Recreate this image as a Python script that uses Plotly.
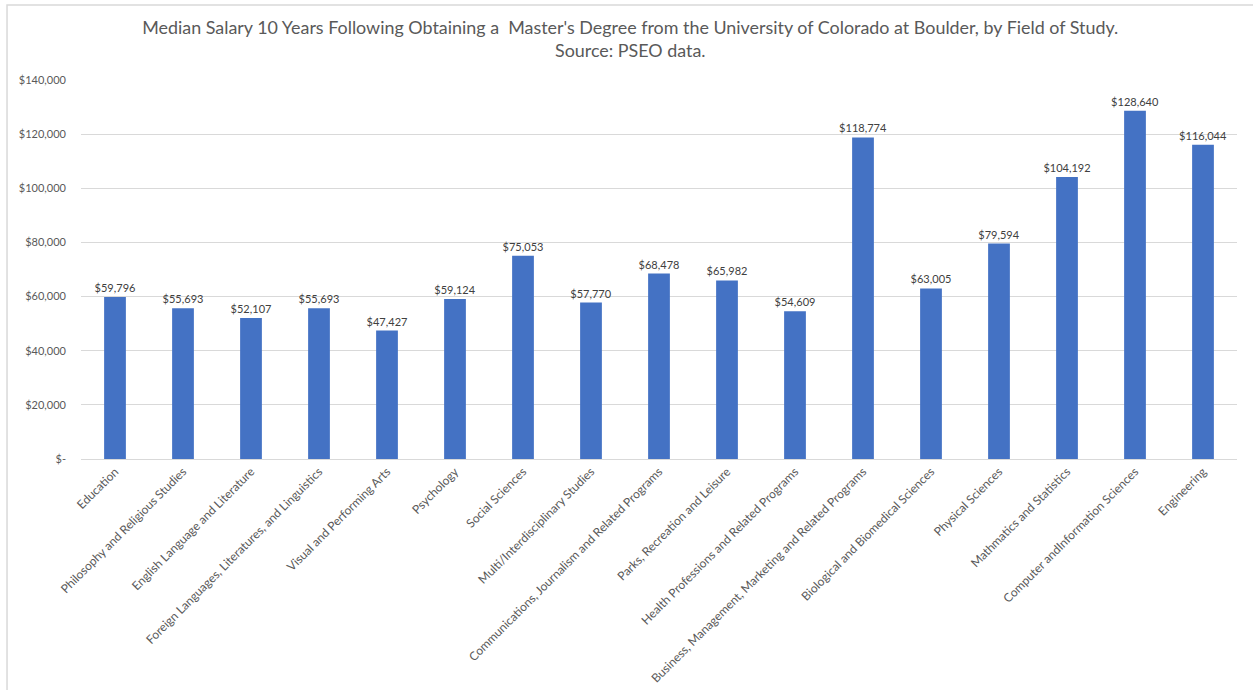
import plotly.graph_objects as go

categories = [
    "Education",
    "Philosophy and Religious Studies",
    "English Language and Literature",
    "Foreign Languages, Literatures, and Linguistics",
    "Visual and Performing Arts",
    "Psychology",
    "Social Sciences",
    "Multi/Interdisciplinary Studies",
    "Communications, Journalism and Related Programs",
    "Parks, Recreation and Leisure",
    "Health Professions and Related Programs",
    "Business, Management, Marketing and Related Programs",
    "Biological and Biomedical Sciences",
    "Physical Sciences",
    "Mathmatics and Statistics",
    "Computer andInformation Sciences",
    "Engineering",
]
salaries = [59796, 55693, 52107, 55693, 47427, 59124, 75053, 57770, 68478,
            65982, 54609, 118774, 63005, 79594, 104192, 128640, 116044]
ytick_vals = [0, 20000, 40000, 60000, 80000, 100000, 120000, 140000]
ytick_text = ["$-", "$20,000", "$40,000", "$60,000", "$80,000", "$100,000", "$120,000", "$140,000"]

labels = ["${:,}".format(v) for v in salaries]

fig = go.Figure(go.Bar(
    x=categories, y=salaries,
    marker=dict(color="#4472C4", line=dict(width=0)),
    width=0.32,
    text=labels, textposition="outside", cliponaxis=False, constraintext="none",
    textfont=dict(family="Lato, Open Sans, sans-serif", size=11, color="#404040"),
))

fig.update_layout(
    width=1253, height=690,
    margin=dict(l=81, r=16, t=80, b=231),
    paper_bgcolor="white", plot_bgcolor="white",
    showlegend=False,
    title=dict(
        text="Median Salary 10 Years Following Obtaining a  Master's Degree from the University of Colorado at Boulder, by Field of Study.<br>Source: PSEO data.",
        x=0.503, xanchor="center", y=0.951, yanchor="top",
        font=dict(family="Lato, Open Sans, sans-serif", size=17.9, color="#595959"),
    ),
    font=dict(family="Lato, Open Sans, sans-serif", color="#595959"),
)
fig.update_xaxes(
    tickangle=-45, tickfont=dict(size=12, color="#595959"),
    showgrid=False, showline=True, linecolor="#d9d9d9", linewidth=1,
    ticks="", automargin=False,
)
fig.update_yaxes(
    range=[0, 140000], tickvals=ytick_vals, ticktext=ytick_text,
    tickfont=dict(size=11, color="#595959"),
    showgrid=True, gridcolor="#d9d9d9", gridwidth=1,
    zeroline=False, showline=False, ticks="", ticklabelstandoff=14,
    automargin=False,
)
fig.add_shape(type="rect", xref="paper", yref="paper",
              x0=-0.064, x1=1.1, y0=-0.8, y1=1.198,
              line=dict(color="#d9d9d9", width=1.5), fillcolor="rgba(0,0,0,0)", layer="below")

fig.write_html("out.html", config={"displayModeBar": False},
               post_script="document.body.style.margin='0';document.body.style.overflow='hidden';")
